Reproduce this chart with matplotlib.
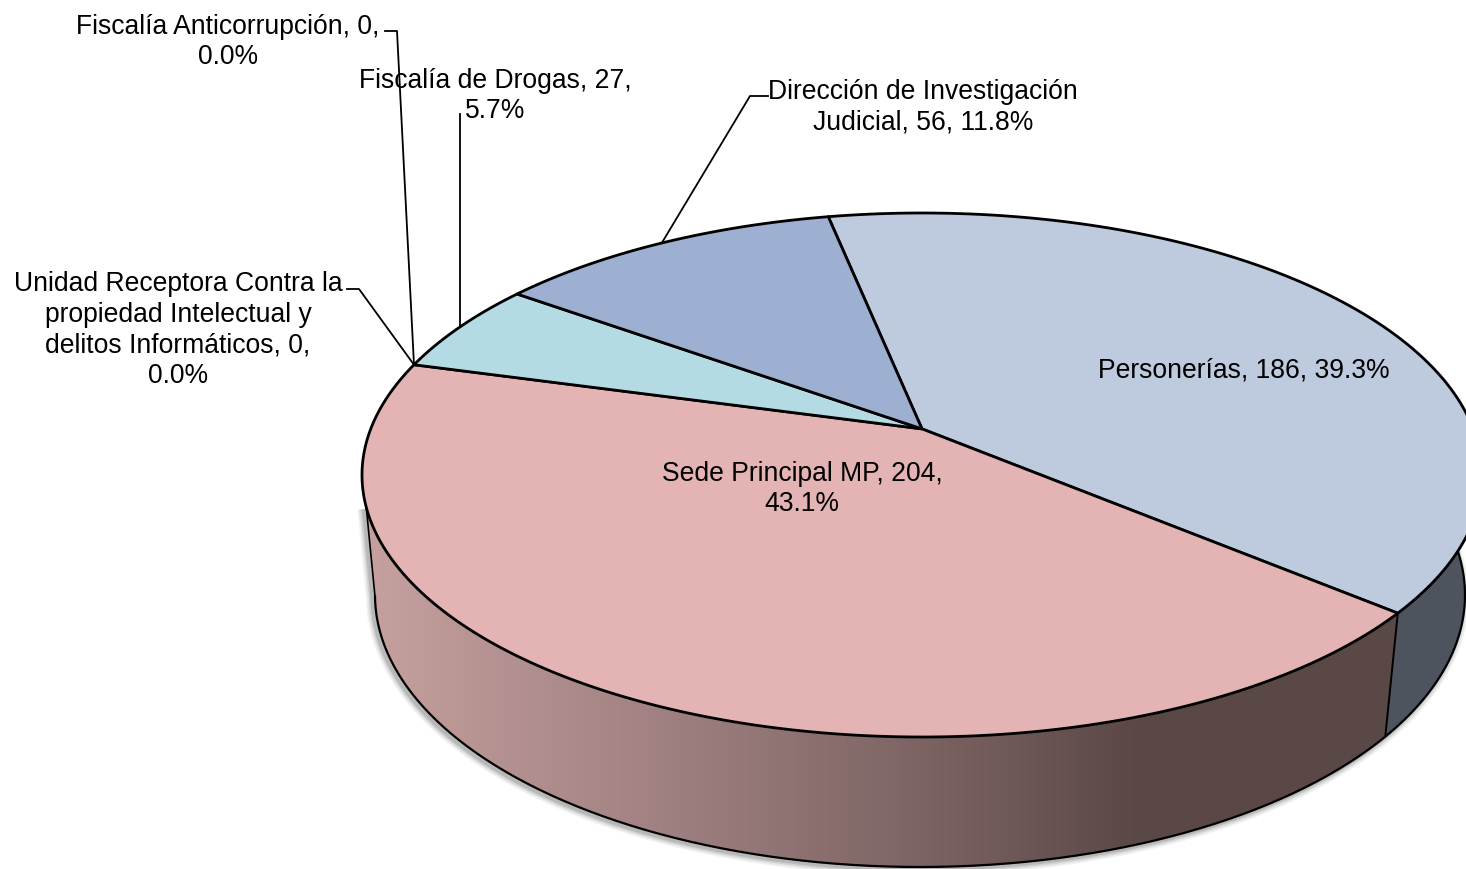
#!/usr/bin/env python3
import numpy as np
import matplotlib
matplotlib.use("Agg")
import matplotlib.pyplot as plt
from matplotlib.patches import Polygon

plt.rcParams["font.family"] = ["Liberation Sans", "DejaVu Sans"]

# clockwise from the start angle
categorias = [
    "Personerías",
    "Sede Principal MP",
    "Unidad Receptora Contra la\npropiedad Intelectual y\ndelitos Informáticos",
    "Fiscalía Anticorrupción",
    "Fiscalía de Drogas",
    "Dirección de Investigación\nJudicial",
]
valores = [186, 204, 0, 0, 27, 56]
colores = ["#BECADE", "#E4B4B4", "#B9CDE5", "#C3D69B", "#B4DBE4", "#9EB0D1"]
sep_pct = [", ", ",\n", ",\n", ",\n", ",\n", ", "]
pos_texto = [(1244, 371), (802, 489), (178, 330), (228, 42), (495, 96), (923, 107)]
# label side end of each leader line, None = no leader
codos = [
    None,
    None,
    [(347, 290), (359, 290)],
    [(385, 32), (397, 32)],
    [(460, 115)],
    [(768, 97), (750, 97)],
]

ANGULO_INICIO = 101.5
TOPE = dict(cx=922, cy=476, a=560, b=262, p=0.176)
BASE = dict(cx=920, cy=596, a=545, b=272, p=0.185)


def proyectar(ang, anillo, r=1.0):
    # disc to ellipse with perspective, so the centre moves up from the ellipse centre
    t = np.radians(ang)
    u, v = r * np.cos(t), r * np.sin(t)
    p = anillo["p"]
    d = 1 + p * v
    x = u * np.sqrt(1 - p * p) / d
    y = (v + p) / d
    return anillo["cx"] + anillo["a"] * x, anillo["cy"] - anillo["b"] * y


def arco(a0, a1, anillo):
    n = max(int(abs(a1 - a0) * 2), 2)
    x, y = proyectar(np.linspace(a0, a1, n), anillo)
    return np.column_stack([x, y])


def cara_lateral(t0, t1, b0, b1):
    return np.vstack([arco(t0, t1, TOPE), arco(b1, b0, BASE)])


def main() -> None:
    fig = plt.figure(figsize=(14.66, 8.70), dpi=100)
    ax = fig.add_axes([0, 0, 1, 1])

    total = sum(valores)
    bordes = ANGULO_INICIO - np.cumsum([0] + valores) * 360.0 / total
    # angle at which the Personerias / Sede seam sits, wrapped to the lower half
    costura = bordes[1] + 360

    # left tangent of the body
    x0, y0 = proyectar(197, TOPE)
    x1, y1 = proyectar(191, BASE)

    # soft shadow under the body, only along the lower outline
    contorno = np.vstack([[x0, y0], arco(191, 370, BASE)])
    for w, al in [(13, 0.07), (10, 0.09), (7, 0.13), (4, 0.20)]:
        ax.plot(contorno[:, 0] - 2.5, contorno[:, 1] + 2, color="#555555", lw=w * 0.72,
                alpha=al, solid_capstyle="butt", zorder=1)

    # side of the Sede slice, shaded left to right
    cara_sede = cara_lateral(197, costura, 191, costura)
    stops_x = [370, 640, 900, 1140, 1400]
    stops_c = np.array([[197, 160, 158], [163, 131, 131], [128, 102, 102],
                        [90, 72, 70], [90, 72, 70]]) / 255.0
    xs = np.arange(360, 1401)
    grad = np.stack([np.interp(xs, stops_x, stops_c[:, i]) for i in range(3)], axis=-1)[None, :, :]
    im = ax.imshow(grad, extent=(360, 1400, 880, 480), aspect="auto", zorder=2, interpolation="bilinear")
    clip = Polygon(cara_sede, closed=True, transform=ax.transData)
    im.set_clip_path(clip)

    # side of the Personerias slice
    ax.add_patch(Polygon(cara_lateral(costura, 370, costura, 370), closed=True,
                         fc="#4E545E", ec="none", zorder=2))

    # body outlines
    ax.plot(*arco(191, 370, BASE).T, color="black", lw=1.6, zorder=3)
    ax.plot([x0, x1], [y0, y1], color="black", lw=1.2, zorder=3)
    xa, ya = proyectar(costura, TOPE)
    xb, yb = proyectar(costura, BASE)
    ax.plot([xa, xb], [ya, yb], color="black", lw=1.4, zorder=3)

    # top face
    apice = np.array(proyectar(0, TOPE, r=0.0))
    for i, val in enumerate(valores):
        if val == 0:
            continue
        puntos = np.vstack([apice, arco(bordes[i], bordes[i + 1], TOPE)])
        ax.add_patch(Polygon(puntos, closed=True, fc=colores[i], ec="black",
                             lw=2.0, joinstyle="round", zorder=4))

    # labels and leaders
    for i, val in enumerate(valores):
        pct = 100.0 * val / total
        texto = f"{categorias[i]}, {val}{sep_pct[i]}{pct:.1f}%"
        ax.text(*pos_texto[i], texto, ha="center", va="center", fontsize=19.1,
                linespacing=1.22, color="black", zorder=6)
        if codos[i] is not None:
            medio = (bordes[i] + bordes[i + 1]) / 2
            fin = proyectar(medio, TOPE)
            xs_l = [c[0] for c in codos[i]] + [fin[0]]
            ys_l = [c[1] for c in codos[i]] + [fin[1]]
            ax.plot(xs_l, ys_l, color="black", lw=1.3, zorder=5)

    ax.set_xlim(0, 1466)
    ax.set_ylim(870, 0)
    ax.axis("off")
    fig.savefig("out.png", dpi=100, facecolor="white")
    plt.close(fig)


if __name__ == "__main__":
    main()
